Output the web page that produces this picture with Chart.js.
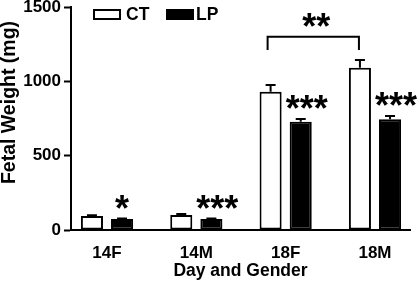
<!DOCTYPE html>
<html><head><meta charset="utf-8">
<script src="https://cdn.jsdelivr.net/npm/chart.js@4/dist/chart.umd.min.js"></script>
<style>html,body{margin:0;padding:0;background:#fff}#wrap{width:418px;height:285px}</style>
</head><body><div id="wrap"><canvas id="c" width="418" height="285"></canvas></div>
<script>
// ---- data ----
const categories = ['14F', '14M', '18F', '18M'];
const seriesNames = ['CT', 'LP'];
const ctValues = [94, 101, 930, 1092];
const ctErrors = [6, 6, 45, 51];
const lpValues = [74, 74, 728, 745];
const lpErrors = [4, 4, 19, 22];
const lpSignificance = ['*', '***', '***', '***'];
const yTicks = [0, 500, 1000, 1500];
const bracketPair = [2, 3];       // 18F CT vs 18M CT
const bracketLabel = '**';
const bracketLevel = 1300;
const bracketFoot = 1211;
const xTitle = 'Day and Gender';
const yTitle = 'Fetal Weight (mg)';

// ---- styling ----
const FONT = "'Liberation Sans', Arial, sans-serif";
Chart.defaults.font.family = FONT;
Chart.defaults.font.weight = 'bold';
Chart.defaults.color = '#000';

const STAR_FS = 36;

const errorBars = {
  id: 'errorBars',
  afterDatasetsDraw(chart) {
    const ctx = chart.ctx, y = chart.scales.y;
    const errs = [ctErrors, lpErrors], vals = [ctValues, lpValues];
    ctx.save();
    ctx.strokeStyle = '#000'; ctx.lineWidth = 2;
    [0, 1].forEach(di => {
      chart.getDatasetMeta(di).data.forEach((el, j) => {
        const top = y.getPixelForValue(vals[di][j]);
        const e = y.getPixelForValue(vals[di][j] + errs[di][j]);
        ctx.beginPath();
        ctx.moveTo(el.x, top); ctx.lineTo(el.x, e);
        ctx.moveTo(el.x - 5, e); ctx.lineTo(el.x + 5, e);
        ctx.stroke();
      });
    });
    ctx.restore();
  }
};

const annotations = {
  id: 'annotations',
  afterDatasetsDraw(chart) {
    const ctx = chart.ctx, y = chart.scales.y;
    const lp = chart.getDatasetMeta(1).data, ct = chart.getDatasetMeta(0).data;
    ctx.save();
    ctx.fillStyle = '#000';
    ctx.font = 'bold ' + STAR_FS + 'px ' + FONT;
    ctx.textBaseline = 'alphabetic';
    const glyphMid = STAR_FS * 0.565;
    lp.forEach((el, j) => {
      const s = lpSignificance[j];
      if (!s) return;
      const c = y.getPixelForValue(lpValues[j] + lpErrors[j]) - 18;
      if (s.length > 1) { ctx.textAlign = 'left'; ctx.fillText(s, el.x - el.width / 2 - 4, c + glyphMid); }
      else { ctx.textAlign = 'center'; ctx.fillText(s, el.x, c + glyphMid); }
    });
    // bracket
    const x1 = ct[bracketPair[0]].x - 3, x2 = ct[bracketPair[1]].x - 1;
    const yl = y.getPixelForValue(bracketLevel), yf = y.getPixelForValue(bracketFoot);
    ctx.strokeStyle = '#000'; ctx.lineWidth = 2;
    ctx.beginPath();
    ctx.moveTo(x1, yf); ctx.lineTo(x1, yl); ctx.lineTo(x2, yl); ctx.lineTo(x2, yf);
    ctx.stroke();
    ctx.textAlign = 'center';
    ctx.fillText(bracketLabel, (x1 + x2) / 2 + 3, yl - 18 + glyphMid);
    ctx.restore();
  }
};

const legendAndTitle = {
  id: 'legendAndTitle',
  afterDraw(chart) {
    const ctx = chart.ctx, L = chart.chartArea.left;
    ctx.save();
    ctx.lineWidth = 2; ctx.strokeStyle = '#000';
    ctx.fillStyle = '#fff';
    ctx.fillRect(L + 23, 10, 26, 9); ctx.strokeRect(L + 23, 10, 26, 9);
    ctx.fillStyle = '#000';
    ctx.fillRect(L + 95, 9, 28, 11);
    ctx.font = 'bold 17.5px ' + FONT;
    ctx.textBaseline = 'middle'; ctx.textAlign = 'left';
    ctx.fillText(seriesNames[0], L + 55, 15);
    ctx.fillText(seriesNames[1], L + 125, 15);
    // y axis title (placed slightly above axis centre as in the source figure)
    ctx.translate(9, 102.5);
    ctx.rotate(-Math.PI / 2);
    ctx.textAlign = 'center';
    ctx.font = 'bold 19.5px ' + FONT;
    ctx.fillText(yTitle, 0, 1);
    ctx.restore();
  }
};

const barCommon = { borderColor: '#000', borderWidth: 2, borderSkipped: false,
  categoryPercentage: 0.674, barPercentage: 0.733 };

new Chart(document.getElementById('c'), {
  type: 'bar',
  data: {
    datasets: [
      Object.assign({ label: seriesNames[0], backgroundColor: '#fff',
        data: categories.map((c, i) => ({ x: i, y: ctValues[i] })) }, barCommon),
      Object.assign({ label: seriesNames[1], backgroundColor: '#000',
        data: categories.map((c, i) => ({ x: i, y: lpValues[i] })) }, barCommon)
    ]
  },
  options: {
    responsive: false, animation: false, devicePixelRatio: 1,
    layout: { padding: { top: 7, right: 8, left: 0, bottom: 0 } },
    plugins: { legend: { display: false }, tooltip: { enabled: false } },
    scales: {
      x: {
        type: 'linear', min: -0.403, max: 3.392, offset: false,
        afterBuildTicks: s => { s.ticks = categories.map((c, i) => ({ value: i })); },
        ticks: { callback: v => categories[v], font: { size: 17, weight: 'bold' }, padding: 5,
          autoSkip: false, maxRotation: 0, minRotation: 0 },
        grid: { display: false },
        border: { display: true, color: '#000', width: 2 },
        title: { display: true, text: xTitle, font: { size: 17.5, weight: 'bold', lineHeight: 1 },
          padding: { top: 5, bottom: 5 }, align: 'center' },
        afterFit: s => { s.height = 55; }
      },
      y: {
        min: 0, max: 1500,
        afterBuildTicks: s => { s.ticks = yTicks.map(v => ({ value: v })); },
        ticks: { font: { size: 17, weight: 'bold' }, padding: 3, callback: v => String(v) },
        grid: { display: true, drawOnChartArea: false, drawTicks: true, tickLength: 7,
          tickWidth: 2, tickColor: '#000' },
        border: { display: true, color: '#000', width: 2 },
        title: { display: false },
        afterFit: s => { s.width = 71; s.paddingTop = 0; s.paddingBottom = 0; }
      }
    }
  },
  plugins: [errorBars, annotations, legendAndTitle]
});
</script>
</body></html>
